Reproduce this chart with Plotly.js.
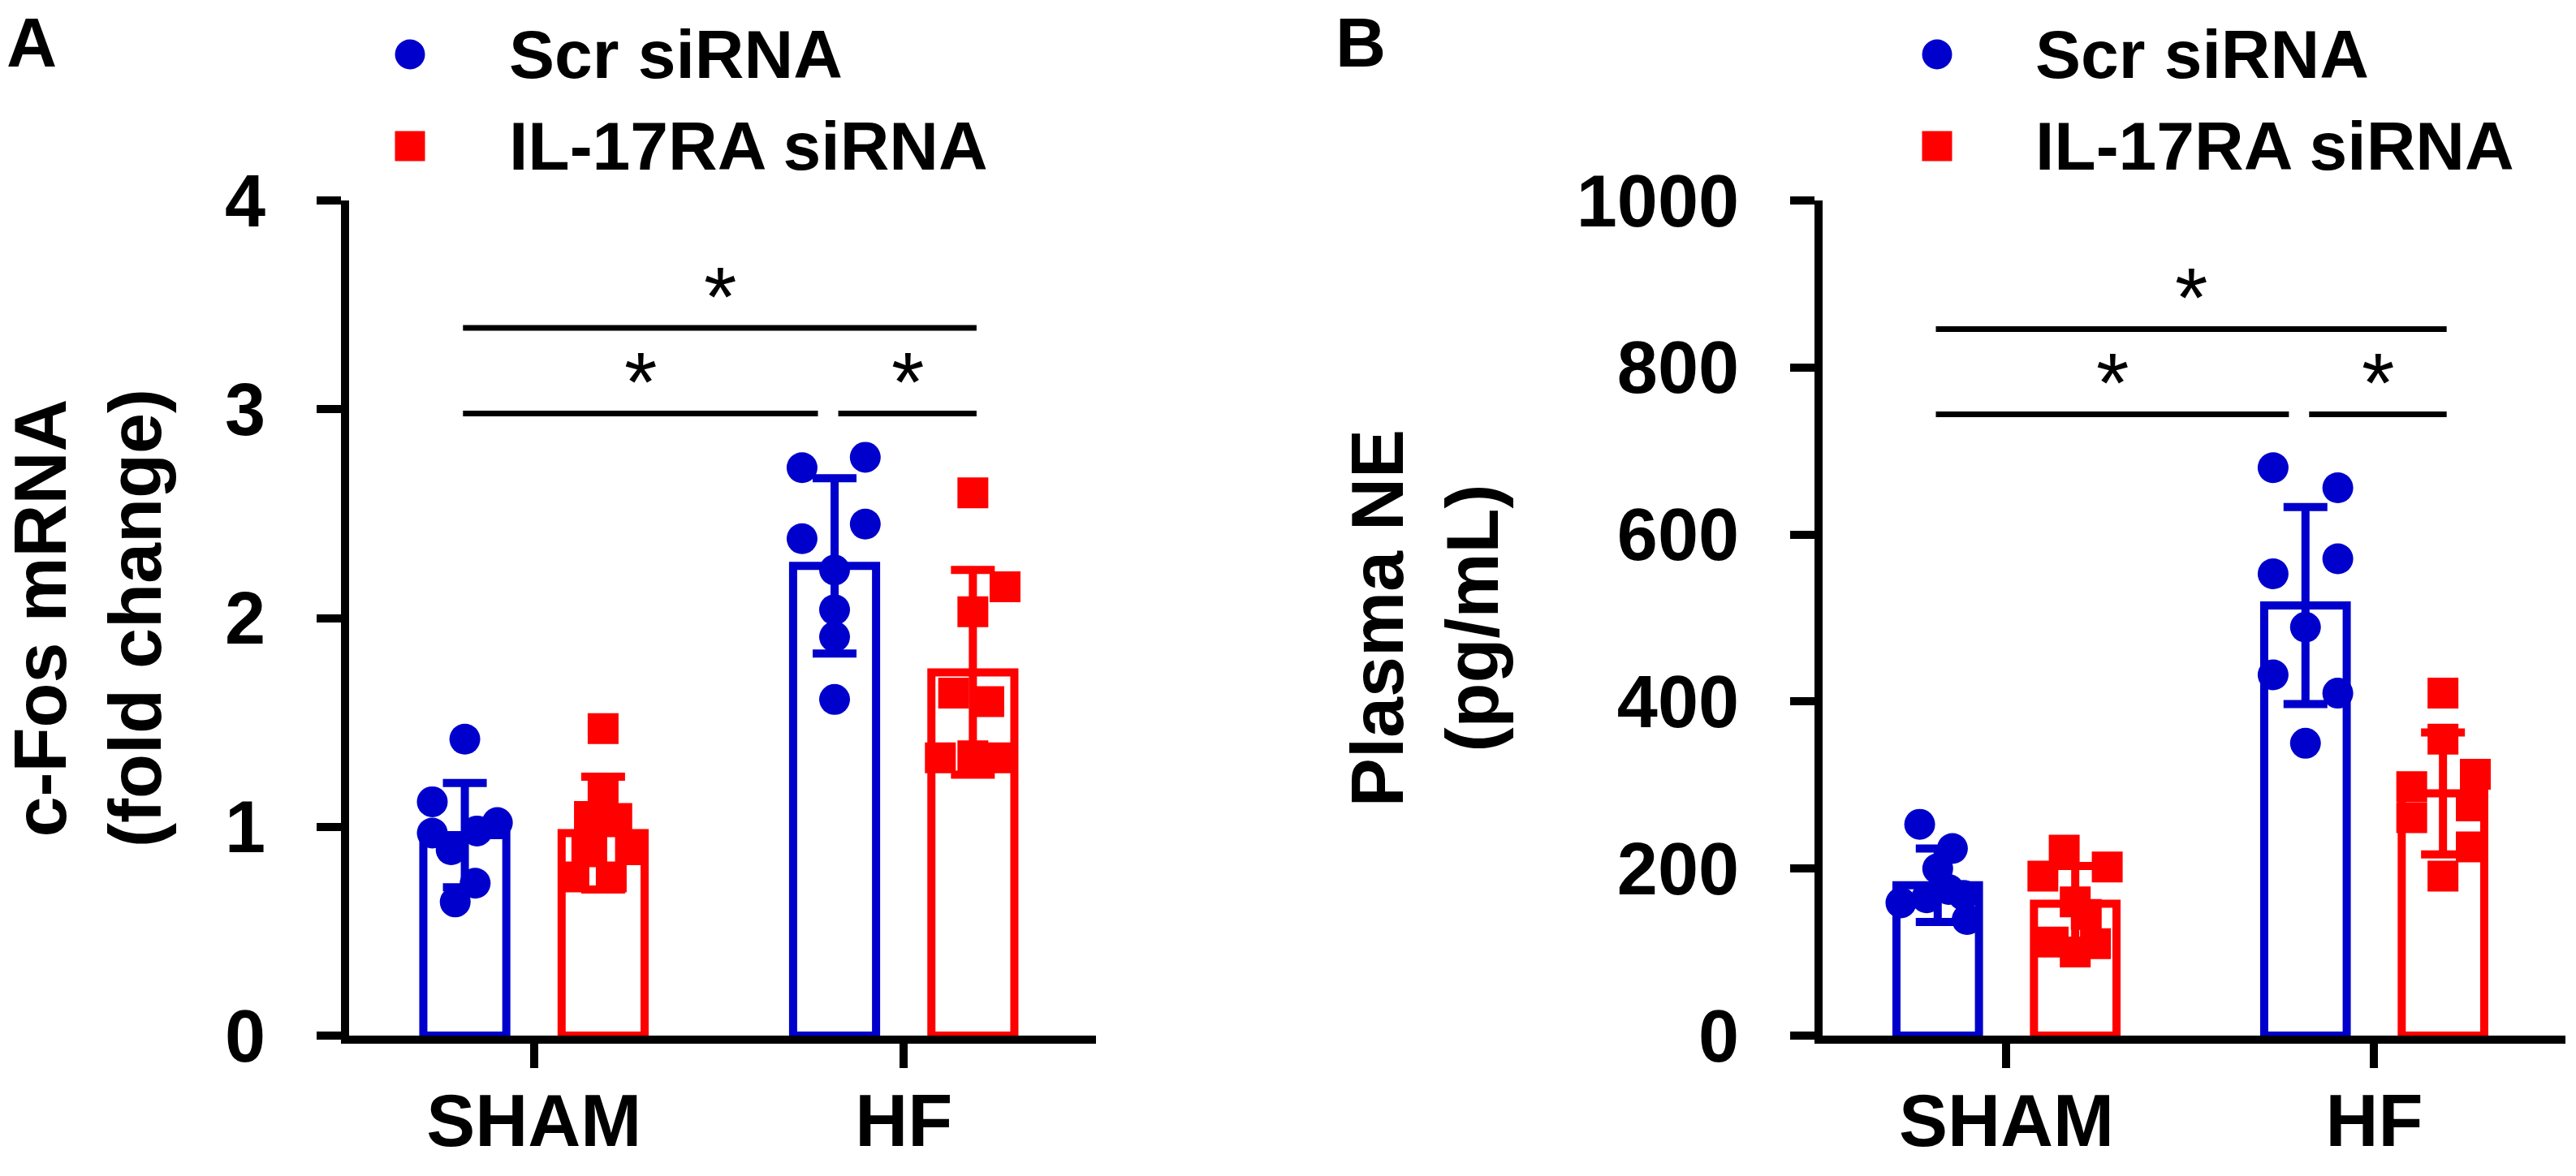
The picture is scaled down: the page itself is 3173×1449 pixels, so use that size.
<!DOCTYPE html>
<html>
<head>
<meta charset="utf-8">
<script src="https://cdn.plot.ly/plotly-3.0.1.min.js"></script>
<style>
  html, body { margin: 0; padding: 0; background: #fff; }
  #chart { width: 3173px; height: 1449px; }
</style>
</head>
<body>
<div id="chart"></div>
<script>
// groups and series
const groups = ["SHAM", "HF"]
const seriesNames = ["Scr siRNA", "IL-17RA siRNA"]

// panel A: c-Fos mRNA (fold change), bar = mean, error = SD
const fosScrMean = [0.96, 2.25]
const fosScrSd = [0.25, 0.42]
const fosIlMean = [0.97, 1.74]
const fosIlSd = [0.27, 0.49]
const fosScrSham = [1.42, 1.12, 1.02, 0.97, 0.89, 0.98, 0.73, 0.64]
const fosScrHf = [2.77, 2.72, 2.45, 2.38, 2.23, 2.04, 1.91, 1.61]
const fosIlSham = [1.47, 1.18, 1.05, 1.04, 0.89, 0.88, 0.76, 0.76]
const fosIlHf = [2.6, 2.15, 2.03, 1.64, 1.6, 1.33, 1.34, 1.33]
// horizontal scatter of the dots inside each bar (fraction of a category)
const fosScrShamSpread = [0, -0.088, 0.088, -0.088, -0.037, 0.033, 0.028, -0.026]
const fosScrHfSpread = [0.083, -0.088, 0.083, -0.088, 0, 0, 0, 0]
const fosIlShamSpread = [0, 0, -0.037, 0.037, 0.074, -0.044, -0.079, 0.022]
const fosIlHfSpread = [0, 0.087, 0, -0.052, 0.043, -0.088, 0, 0.08]
const fosSigLevels = [2.98, 3.39]

// panel B: plasma NE (pg/mL)
const neScrMean = [180, 515]
const neScrSd = [44, 118]
const neIlMean = [158, 290]
const neIlSd = [45, 73]
const neScrSham = [253, 224, 200, 175, 168, 165, 159, 139]
const neScrHf = [680, 656, 553, 571, 489, 432, 410, 350]
const neIlSham = [222, 202, 191, 160, 145, 112, 110, 100]
const neIlHf = [410, 355, 313, 298, 261, 275, 226, 191]
const neScrShamSpread = [-0.049, 0.04, 0, 0.03, 0.07, -0.03, -0.1, 0.08]
const neScrHfSpread = [-0.088, 0.088, -0.088, 0.088, 0, -0.088, 0.088, 0]
const neIlShamSpread = [-0.03, 0.087, -0.088, 0, 0.03, -0.06, 0.055, 0]
const neIlHfSpread = [0, 0, 0.088, -0.085, -0.085, 0.077, 0.077, 0]
const neSigLevels = [744, 846]

const W = 3173
const H = 1449
const FONT = "Liberation Sans, Arial, Helvetica, sans-serif"
const BLUE = "#0000cc"
const RED = "#ff0000"
const BAR_GAP = 0.252
const BAR_GROUP_GAP = 0.4
const OFF = (1 - BAR_GAP) / 4 // centre of each bar inside its group

function bars(means, sds, color, xa, ya, name) {
  return {
    type: "bar", name, x: [0, 1], y: means, xaxis: xa, yaxis: ya,
    marker: { color: "white", line: { color, width: 10 } },
    error_y: { type: "data", array: sds, visible: true, color, thickness: 10, width: 27 },
    showlegend: false, hoverinfo: "skip",
  }
}

function dots(vals, spread, groupIdx, side, color, symbol, xa, ya, name) {
  return {
    type: "scatter", mode: "markers", name, xaxis: xa, yaxis: ya,
    x: vals.map((v, i) => groupIdx + side * OFF + spread[i]),
    y: vals,
    marker: { color, symbol, size: 38, line: { width: 0 } },
    showlegend: false, hoverinfo: "y",
  }
}

const data = [
  bars(fosScrMean, fosScrSd, BLUE, "x", "y", seriesNames[0]),
  bars(fosIlMean, fosIlSd, RED, "x", "y", seriesNames[1]),
  dots(fosScrSham, fosScrShamSpread, 0, -1, BLUE, "circle", "x", "y", seriesNames[0]),
  dots(fosScrHf, fosScrHfSpread, 1, -1, BLUE, "circle", "x", "y", seriesNames[0]),
  dots(fosIlSham, fosIlShamSpread, 0, 1, RED, "square", "x", "y", seriesNames[1]),
  dots(fosIlHf, fosIlHfSpread, 1, 1, RED, "square", "x", "y", seriesNames[1]),
  bars(neScrMean, neScrSd, BLUE, "x2", "y2", seriesNames[0]),
  bars(neIlMean, neIlSd, RED, "x2", "y2", seriesNames[1]),
  dots(neScrSham, neScrShamSpread, 0, -1, BLUE, "circle", "x2", "y2", seriesNames[0]),
  dots(neScrHf, neScrHfSpread, 1, -1, BLUE, "circle", "x2", "y2", seriesNames[0]),
  dots(neIlSham, neIlShamSpread, 0, 1, RED, "square", "x2", "y2", seriesNames[1]),
  dots(neIlHf, neIlHfSpread, 1, 1, RED, "square", "x2", "y2", seriesNames[1]),
]

const yDomain = [1 - 1276 / H, 1 - 247 / H]

function xAxis(domain, anchor) {
  return {
    domain, anchor, range: [-0.5, 1.52],
    tickvals: [0, 1], ticktext: groups,
    ticks: "outside", ticklen: 30, tickwidth: 10, tickcolor: "#000",
    showline: true, linewidth: 10, linecolor: "#000",
    showgrid: false, zeroline: false, fixedrange: true,
    ticklabelstandoff: -12,
    tickfont: { family: FONT, size: 90, weight: "bold", color: "#000" },
  }
}

function yAxis(range, dtick, title, anchor) {
  return {
    domain: yDomain, anchor, range, dtick,
    ticks: "outside", ticklen: 30, tickwidth: 10, tickcolor: "#000",
    showline: true, linewidth: 10, linecolor: "#000",
    showgrid: false, zeroline: false, fixedrange: true,
    ticklabelstandoff: 45,
    tickfont: { family: FONT, size: 90, weight: "bold", color: "#000" },
    title: { text: title, standoff: 70, font: { family: FONT, size: 90, weight: "bold", color: "#000" } },
  }
}

// significance brackets between bar centres, with a star above each
function sigMarks(xref, yref, levels) {
  const scrSham = -OFF, scrHf = 1 - OFF, ilHf = 1 + OFF
  const segs = [
    [scrSham - 0.005, scrHf - 0.045, levels[0]],
    [scrHf + 0.01, ilHf + 0.01, levels[0]],
    [scrSham - 0.005, ilHf + 0.01, levels[1]],
  ]
  const shapes = segs.map(([a, b, y]) => ({
    type: "line", xref, yref, x0: a, x1: b, y0: y, y1: y,
    line: { color: "#000", width: 7 },
  }))
  const notes = segs.map(([a, b, y]) => ({
    xref, yref, x: (a + b) / 2, y, text: "*", showarrow: false,
    xanchor: "center", yanchor: "bottom", yshift: -22,
    font: { family: FONT, size: 104, color: "#000" },
  }))
  return { shapes, notes }
}

const sigA = sigMarks("x", "y", fosSigLevels)
const sigB = sigMarks("x2", "y2", neSigLevels)

// legend drawn as shapes + labels so the symbols keep the dot size
function legendItems(markerX, textX) {
  const rows = [
    { y: 67, color: BLUE, kind: "circle", label: seriesNames[0] },
    { y: 180, color: RED, kind: "rect", label: seriesNames[1] },
  ]
  const shapes = rows.map((r) => ({
    type: r.kind, xref: "paper", yref: "paper",
    xsizemode: "pixel", ysizemode: "pixel",
    xanchor: markerX / W, yanchor: 1 - r.y / H,
    x0: -18.5, x1: 18.5, y0: -18.5, y1: 18.5,
    fillcolor: r.color, line: { width: 0 },
  }))
  const notes = rows.map((r) => ({
    xref: "paper", yref: "paper", x: textX / W, y: 1 - r.y / H,
    xanchor: "left", yanchor: "middle", showarrow: false, text: r.label,
    font: { family: FONT, size: 84, weight: "bold", color: "#000" },
  }))
  return { shapes, notes }
}

const legA = legendItems(505, 625)
const legB = legendItems(2386, 2505)

const panelLabels = [
  { text: "A", x: 6 / W },
  { text: "B", x: 1643 / W },
].map((p) => ({
  xref: "paper", yref: "paper", x: p.x, y: 1 - 2 / H, xanchor: "left", yanchor: "top",
  showarrow: false, text: p.text,
  font: { family: FONT, size: 86, weight: "bold", color: "#000" },
}))

const layout = {
  width: W, height: H,
  margin: { l: 0, r: 0, t: 0, b: 0 },
  paper_bgcolor: "#fff", plot_bgcolor: "#fff",
  barmode: "group", bargap: BAR_GAP, bargroupgap: BAR_GROUP_GAP,
  showlegend: false,
  font: { family: FONT, color: "#000" },
  xaxis: xAxis([430 / W, 1350 / W], "y"),
  yaxis: yAxis([0, 4], 1, "c-Fos mRNA<br>(fold change)", "x"),
  xaxis2: xAxis([2245 / W, 3160 / W], "y2"),
  yaxis2: yAxis([0, 1000], 200, "Plasma NE<br>(pg/mL)", "x2"),
  shapes: [...sigA.shapes, ...sigB.shapes, ...legA.shapes, ...legB.shapes],
  annotations: [...sigA.notes, ...sigB.notes, ...legA.notes, ...legB.notes, ...panelLabels],
}

Plotly.newPlot("chart", data, layout, { staticPlot: true, displayModeBar: false })
</script>
</body>
</html>
